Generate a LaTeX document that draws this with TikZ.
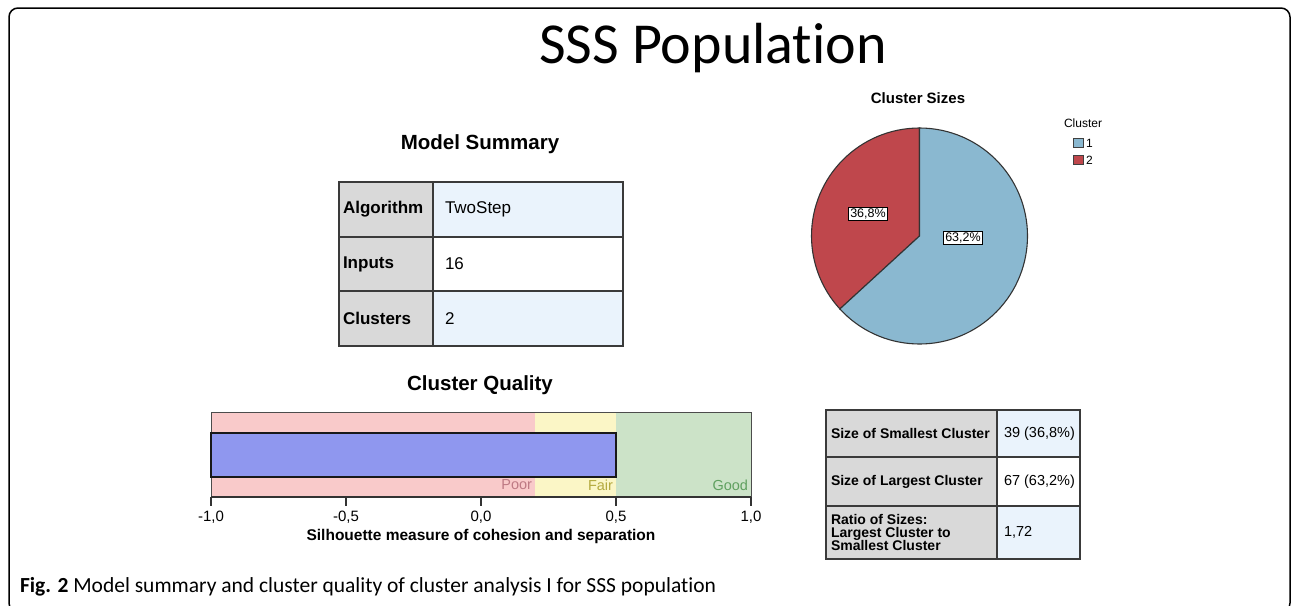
\documentclass[tikz,border=0pt]{standalone}
\usepackage{fontspec}
\setmainfont{Liberation Sans}
\newfontfamily\calib[Ligatures=CommonOff]{Carlito}
\newcommand\px[1]{\fontsize{#1}{#1}\selectfont}
\definecolor{cellgray}{HTML}{D9D9D9}
\definecolor{cellblue}{HTML}{EAF3FC}
\definecolor{tabline}{HTML}{3A3A3A}
\definecolor{poorbg}{HTML}{F9CACA}
\definecolor{fairbg}{HTML}{FBF6C6}
\definecolor{goodbg}{HTML}{CCE3C8}
\definecolor{barblue}{HTML}{8F97EF}
\definecolor{poortx}{HTML}{BE7A84}
\definecolor{fairtx}{HTML}{B4AA40}
\definecolor{goodtx}{HTML}{5FA05F}
\definecolor{pieblue}{HTML}{8AB8D0}
\definecolor{piered}{HTML}{BF474C}
\begin{document}
\begin{tikzpicture}[x=1pt,y=-1pt,
  every node/.style={inner sep=0pt, outer sep=0pt},
  cellbox/.style={draw=tabline, line width=1.4pt, anchor=north west},
  keytxt/.style={font=\px{17}\bfseries, anchor=west},
  valtxt/.style={font=\px{17}, anchor=west},
  keysm/.style={font=\px{14}\bfseries, anchor=west, align=left},
  valsm/.style={font=\px{14.5}, anchor=west},
  heading/.style={font=\px{20.5}\bfseries},
  ticklbl/.style={font=\px{15}},
  zonelbl/.style={font=\px{14.5}, anchor=east},
  pielbl/.style={font=\px{12.5}, draw=black, line width=0.8pt, fill=white, inner xsep=1.5pt, inner ysep=1.5pt},
  legbox/.style={draw=black!75, line width=0.8pt, minimum width=10pt, minimum height=9pt}
]
\useasboundingbox (0,0) rectangle (1292,605);

% outer frame
\draw[line width=1.5pt, rounded corners=9pt] (9,8) rectangle (1290,612);

% title
\node[font=\calib\px{58}, anchor=base] (title) at (713,63) {SSS Population};

% ---------- model summary ----------
\node[heading] (mshead) at (480,144) {Model Summary};

\node[cellbox, fill=cellgray, minimum width=94pt, minimum height=55pt] (k1) at (339,182) {};
\node[cellbox, fill=cellblue, minimum width=190pt, minimum height=55pt] (v1) at (433,182) {};
\node[cellbox, fill=cellgray, minimum width=94pt, minimum height=54pt] (k2) at (339,237) {};
\node[cellbox, fill=white, minimum width=190pt, minimum height=54pt] (v2) at (433,237) {};
\node[cellbox, fill=cellgray, minimum width=94pt, minimum height=55pt] (k3) at (339,291) {};
\node[cellbox, fill=cellblue, minimum width=190pt, minimum height=55pt] (v3) at (433,291) {};

\node[keytxt] (k1t) at ([xshift=4pt]k1.west) {Algorithm};
\node[valtxt] (v1t) at ([xshift=12pt]v1.west) {TwoStep};
\node[keytxt] (k2t) at ([xshift=4pt]k2.west) {Inputs};
\node[valtxt] (v2t) at ([xshift=12pt]v2.west) {16};
\node[keytxt] (k3t) at ([xshift=4pt]k3.west) {Clusters};
\node[valtxt] (v3t) at ([xshift=12pt]v3.west) {2};

% ---------- cluster sizes pie ----------
\node[font=\px{15}\bfseries] (pshead) at (918,98) {Cluster Sizes};
\coordinate (pc) at (919.5,236);
\filldraw[fill=piered, draw=black!80, line width=1.1pt]
  (pc) -- ++(-90:108) arc[start angle=-90, end angle=-222.5, radius=108] -- cycle;
\filldraw[fill=pieblue, draw=black!80, line width=1.1pt]
  (pc) -- ++(-222.5:108) arc[start angle=-222.5, end angle=-450, radius=108] -- cycle;
\node[pielbl] (p2) at (868,214) {36,8\%};
\node[pielbl] (p1) at (963,238) {63,2\%};

\node[font=\px{12}] (leg) at (1083,123) {Cluster};
\node[legbox, fill=pieblue] (lb1) at (1078,143) {};
\node[legbox, fill=piered] (lb2) at (1078,160) {};
\node[font=\px{12}, anchor=west] (lt1) at ([xshift=3pt]lb1.east) {1};
\node[font=\px{12}, anchor=west] (lt2) at ([xshift=3pt]lb2.east) {2};

% ---------- cluster quality ----------
\node[heading] (cqhead) at (480,385) {Cluster Quality};
\fill[poorbg] (211,412) rectangle (535,497);
\fill[fairbg] (535,412) rectangle (616,497);
\fill[goodbg] (616,412) rectangle (751,497);
\draw[black!70, line width=1pt] (211,412) rectangle (751,497);
\draw[fill=barblue, draw=black!90, line width=1.6pt] (211,433) rectangle (616,477);
\draw[black!80, line width=1.4pt] (211,497) -- (751,497);
\node[zonelbl, text=poortx] (zp) at (532,485) {Poor};
\node[zonelbl, text=fairtx] (zf) at (613,485) {Fair};
\node[zonelbl, text=goodtx] (zg) at (748,485) {Good};
\foreach \xv/\lab [count=\i] in {211/{-1,0},346/{-0,5},481/{0,0},616/{0,5},751/{1,0}}{
  \draw[black!80, line width=1.2pt] (\xv,497) -- (\xv,506);
  \node[ticklbl] (tk\i) at (\xv,517) {\lab};
}
\node[font=\px{15.5}\bfseries] (axlbl) at (481,536) {Silhouette measure of cohesion and separation};

% ---------- size table ----------
\node[cellbox, fill=cellgray, minimum width=171pt, minimum height=47pt] (s1) at (826,410) {};
\node[cellbox, fill=cellblue, minimum width=83pt, minimum height=47pt] (w1) at (997,410) {};
\node[cellbox, fill=cellgray, minimum width=171pt, minimum height=49pt] (s2) at (826,457) {};
\node[cellbox, fill=white, minimum width=83pt, minimum height=49pt] (w2) at (997,457) {};
\node[cellbox, fill=cellgray, minimum width=171pt, minimum height=53pt] (s3) at (826,506) {};
\node[cellbox, fill=cellblue, minimum width=83pt, minimum height=53pt] (w3) at (997,506) {};

\node[keysm] (s1t) at ([xshift=5pt]s1.west) {Size of Smallest Cluster};
\node[valsm] (w1t) at ([xshift=7pt]w1.west) {39 (36,8\%)};
\node[keysm] (s2t) at ([xshift=5pt]s2.west) {Size of Largest Cluster};
\node[valsm] (w2t) at ([xshift=7pt]w2.west) {67 (63,2\%)};
\node[keysm] (s3t) at ([xshift=5pt]s3.west) {Ratio of Sizes:\\[-1pt]Largest Cluster to\\[-1pt]Smallest Cluster};
\node[valsm] (w3t) at ([xshift=7pt]w3.west) {1,72};

% caption
\node[font=\calib\px{21.5}, anchor=base west] (cap) at (20,592) {\textbf{Fig. 2} Model summary and cluster quality of cluster analysis I for SSS population};
\end{tikzpicture}
\end{document}
